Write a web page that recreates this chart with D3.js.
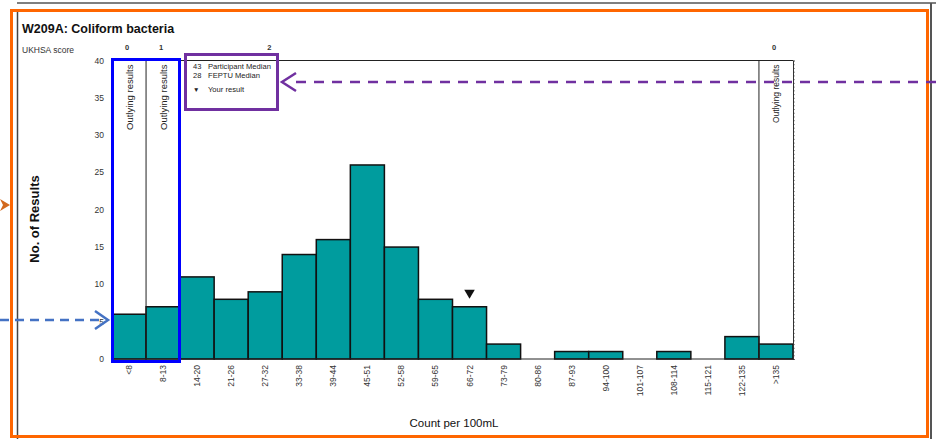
<!DOCTYPE html>
<html lang="en">
  <head>
    <meta charset="UTF-8" />
    <title>W209A: Coliform bacteria</title>
    <script src="https://d3js.org/d3.v7.min.js"></script>
    <style>
      body {
        margin: 0;
        background: #fff;
      }
      svg {
        display: block;
        font-family: "Liberation Sans", Arial, sans-serif;
      }
      .bar {
        fill: #009c9e;
        stroke: #111;
        stroke-width: 1.5;
      }
      .tick-label {
        font-size: 8.5px;
        fill: #333;
      }
      .frame {
        stroke: #222;
        stroke-width: 1;
        fill: none;
      }
    </style>
  </head>
  <body>
    <svg width="936" height="439"></svg>

    <script>
      const categories = [
        "<8", "8-13", "14-20", "21-26", "27-32", "33-38", "39-44", "45-51",
        "52-58", "59-65", "66-72", "73-79", "80-86", "87-93", "94-100",
        "101-107", "108-114", "115-121", "122-135", ">135",
      ];
      const counts = [6, 7, 11, 8, 9, 14, 16, 26, 15, 8, 7, 2, 0, 1, 1, 0, 1, 0, 3, 2];
      const yTicks = [0, 5, 10, 15, 20, 25, 30, 35, 40];
      const scoreLabels = ["0", "1", "2", "0"];
      const scoreCats = ["<8", "8-13", "27-32", ">135"];
      const outlyingCats = ["<8", "8-13", ">135"];
      const legendValues = ["43", "28", "\u25BC"];
      const legendNames = ["Participant Median", "FEPTU Median", "Your result"];
      const yourResultCat = "66-72";

      const width = 936;
      const height = 439;
      const plot = { left: 112, right: 793, top: 60.5, bottom: 359 };
      const svg = d3.select("svg");

      const x = d3.scaleBand().domain(categories).range([plot.left, plot.right]).padding(0);
      const y = d3.scaleLinear().domain([0, 40]).range([plot.bottom, plot.top]);

      // outer page frame lines
      svg.append("line").attr("x1", 17).attr("x2", 936).attr("y1", 3).attr("y2", 3)
        .attr("stroke", "#555").attr("stroke-width", 1.5);
      svg.append("line").attr("x1", 17.5).attr("x2", 17.5).attr("y1", 12).attr("y2", height)
        .attr("stroke", "#444").attr("stroke-width", 1.5);
      svg.append("line").attr("x1", 931).attr("x2", 931).attr("y1", 3).attr("y2", height)
        .attr("stroke", "#555").attr("stroke-width", 2);

      // title
      svg.append("text").attr("x", 22).attr("y", 33)
        .attr("font-size", 12.5).attr("font-weight", "bold").attr("fill", "#111")
        .text("W209A: Coliform bacteria");
      svg.append("text").attr("x", 22).attr("y", 53)
        .attr("font-size", 8.5).attr("fill", "#333").text("UKHSA score");

      svg.selectAll(".score").data(scoreLabels).enter().append("text")
        .attr("class", "score")
        .attr("x", function (d, i) {
          return x(scoreCats[i]) + x.bandwidth() / 2 + (i === 2 ? 4 : -2);
        })
        .attr("y", 50)
        .attr("text-anchor", "middle")
        .attr("font-size", 7.5).attr("font-weight", "bold").attr("fill", "#333")
        .text(function (d) { return d; });

      // bars
      svg.selectAll(".bar").data(counts).enter().append("rect")
        .attr("class", "bar")
        .attr("x", function (d, i) { return x(categories[i]); })
        .attr("width", x.bandwidth())
        .attr("y", function (d) { return y(d); })
        .attr("height", function (d) { return y(0) - y(d); })
        .style("display", function (d) { return d > 0 ? null : "none"; });

      // outlying columns
      outlyingCats.forEach(function (c) {
        const bx = c === ">135" ? x(c) : x(c) + x.bandwidth();
        svg.append("line").attr("class", "frame")
          .attr("x1", bx).attr("x2", bx).attr("y1", plot.top).attr("y2", plot.bottom);
        svg.append("text")
          .attr("transform", "translate(" + (x(c) + x.bandwidth() / 2 + 3.5) + "," + (plot.top + 4) + ") rotate(-90)")
          .attr("text-anchor", "end")
          .attr("font-size", c === ">135" ? 8.5 : 9.5).attr("fill", "#222")
          .text("Outlying results");
      });

      // plot border
      svg.append("line").attr("class", "frame")
        .attr("x1", plot.left).attr("x2", plot.right).attr("y1", plot.top).attr("y2", plot.top);
      svg.append("line").attr("class", "frame")
        .attr("x1", plot.left).attr("x2", plot.left).attr("y1", plot.top).attr("y2", plot.bottom);
      svg.append("line").attr("class", "frame").attr("stroke-width", 1.5)
        .attr("x1", plot.left).attr("x2", plot.right).attr("y1", plot.bottom).attr("y2", plot.bottom);

      // right edge with little minor ticks
      const rightAxis = d3.axisRight(y).tickValues(d3.range(0, 40.01, 0.5)).tickSize(1.5).tickFormat("");
      svg.append("g").attr("transform", "translate(" + plot.right + ",0)").call(rightAxis)
        .call(function (g) {
          g.selectAll("line,path").attr("stroke", "#333");
        });

      // y axis labels
      svg.selectAll(".ylab").data(yTicks).enter().append("text")
        .attr("class", "tick-label ylab")
        .attr("x", 104)
        .attr("y", function (d) { return y(d) + 3; })
        .attr("text-anchor", "end")
        .text(function (d) { return d; });

      // x axis labels
      svg.selectAll(".xlab").data(categories).enter().append("text")
        .attr("class", "tick-label xlab")
        .attr("transform", function (d) {
          return "translate(" + (x(d) + x.bandwidth() / 2 + 3) + "," + (plot.bottom + 6) + ") rotate(-90)";
        })
        .attr("text-anchor", "end")
        .text(function (d) { return d; });

      // your result marker
      const ri = categories.indexOf(yourResultCat);
      svg.append("path")
        .attr("d", d3.symbol(d3.symbolTriangle, 48))
        .attr("transform", "translate(" + (x(yourResultCat) + x.bandwidth() / 2) + "," + (y(counts[ri]) - 14) + ") rotate(180)")
        .attr("fill", "#111");

      // legend
      svg.selectAll(".legv").data(legendValues).enter().append("text")
        .attr("x", 193)
        .attr("y", function (d, i) { return [69, 78, 92][i]; })
        .attr("font-size", function (d, i) { return i === 2 ? 6.5 : 7.5; })
        .attr("fill", "#222")
        .text(function (d) { return d; });
      svg.selectAll(".legn").data(legendNames).enter().append("text")
        .attr("x", 208)
        .attr("y", function (d, i) { return [69, 78, 92][i]; })
        .attr("font-size", 7.6)
        .attr("fill", "#222")
        .text(function (d) { return d; });

      // axis titles
      svg.append("text")
        .attr("transform", "translate(39,219) rotate(-90)")
        .attr("text-anchor", "middle")
        .attr("font-size", 13).attr("font-weight", "bold").attr("fill", "#111")
        .text("No. of Results");
      svg.append("text").attr("x", 454).attr("y", 427)
        .attr("text-anchor", "middle").attr("font-size", 11.5).attr("fill", "#111")
        .text("Count per 100mL");

      // annotation boxes and arrows
      svg.append("rect").attr("x", 11.5).attr("y", 10.5).attr("width", 916).attr("height", 426)
        .attr("fill", "none").attr("stroke", "#ff6600").attr("stroke-width", 3);
      svg.append("rect").attr("x", 112.5).attr("y", 59.5).attr("width", 67).attr("height", 302)
        .attr("fill", "none").attr("stroke", "#0000ff").attr("stroke-width", 3);
      svg.append("rect").attr("x", 185.5).attr("y", 54.5).attr("width", 92).attr("height", 55)
        .attr("fill", "none").attr("stroke", "#7030a0").attr("stroke-width", 3);

      svg.append("line").attr("x1", 0).attr("x2", 104).attr("y1", 320).attr("y2", 320)
        .attr("stroke", "#4472c4").attr("stroke-width", 2.5).attr("stroke-dasharray", "9,6");
      svg.append("path").attr("d", "M95,311L108,320L95,329")
        .attr("fill", "none").attr("stroke", "#4472c4").attr("stroke-width", 2.5);

      svg.append("line").attr("x1", 936).attr("x2", 288).attr("y1", 82).attr("y2", 82)
        .attr("stroke", "#7030a0").attr("stroke-width", 2.5).attr("stroke-dasharray", "10,8");
      svg.append("path").attr("d", "M296,73L282,82L296,91")
        .attr("fill", "none").attr("stroke", "#7030a0").attr("stroke-width", 2.5);

      svg.append("path").attr("d", "M0,199L10,205L0,211L3,205Z").attr("fill", "#d2691e");
    </script>
  </body>
</html>
